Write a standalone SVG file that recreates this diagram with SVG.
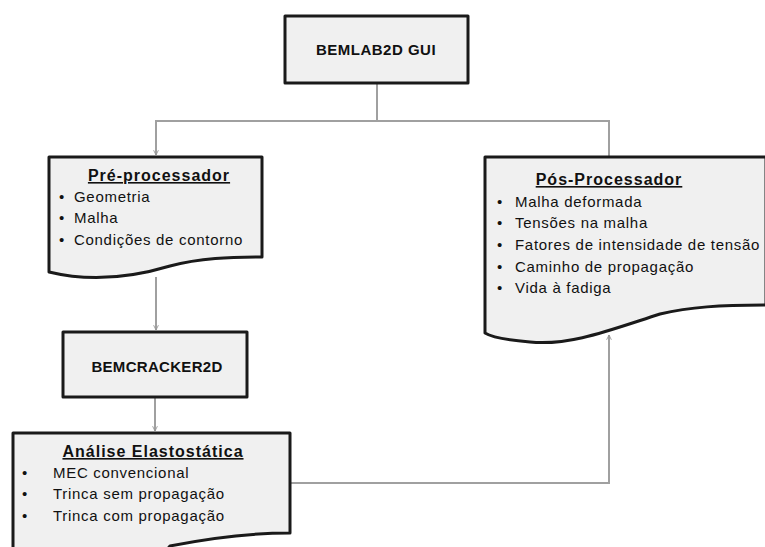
<svg xmlns="http://www.w3.org/2000/svg" width="765" height="547" viewBox="0 0 765 547">
<defs>
<marker id="arr" viewBox="0 0 10 10" refX="9" refY="5" markerWidth="6" markerHeight="6" orient="auto" markerUnits="userSpaceOnUse">
<path d="M1,1 L9,5 L1,9" fill="none" stroke="#999" stroke-width="1.5"/>
</marker>
<style>
.box{fill:#f0f0f0;stroke:#1a1a1a;stroke-width:3;stroke-linejoin:round}
.con{fill:none;stroke:#a0a0a0;stroke-width:2}
text{font-family:"Liberation Sans",Arial,sans-serif;fill:#111}
.t{font-size:15px;font-weight:bold;letter-spacing:0.5px}
.h{font-size:16px;font-weight:bold;text-decoration:underline;letter-spacing:1px}
.i{font-size:15px;letter-spacing:0.7px}
</style>
</defs>
<rect width="765" height="547" fill="#fff"/>
<g id="connectors">
<path class="con" d="M377,83 V121 H156 V155" marker-end="url(#arr)"/>
<path class="con" d="M377,121 H609 V157"/>
<path class="con" d="M156,277 V330" marker-end="url(#arr)"/>
<path class="con" d="M155,397 V431" marker-end="url(#arr)"/>
<path class="con" d="M290,483 H609 V335" marker-end="url(#arr)"/>
</g>
<g id="gui">
<rect class="box" x="285" y="16" width="183" height="67"/>
<text class="t" x="376" y="55" text-anchor="middle">BEMLAB2D GUI</text>
</g>
<g id="pre">
<path class="box" d="M49,157 H262 V257 C230,257 200,258 170,266 C130,278 90,282 49,272 Z"/>
<text class="h" x="159" y="181" text-anchor="middle">Pré-processador</text>
<text class="i" x="59" y="202">•</text><text class="i" x="74" y="202">Geometria</text>
<text class="i" x="59" y="223">•</text><text class="i" x="74" y="223">Malha</text>
<text class="i" x="59" y="245">•</text><text class="i" x="74" y="245">Condições de contorno</text>
</g>
<g id="pos">
<path class="box" d="M485,157 H766 V305 C720,305 690,307 660,314 C610,330 570,346 530,342 C505,340 490,336 485,333 Z"/>
<text class="h" x="609" y="185" text-anchor="middle">Pós-Processador</text>
<text class="i" x="497" y="207">•</text><text class="i" x="515" y="207">Malha deformada</text>
<text class="i" x="497" y="228">•</text><text class="i" x="515" y="228">Tensões na malha</text>
<text class="i" x="497" y="250">•</text><text class="i" x="515" y="250">Fatores de intensidade de tensão</text>
<text class="i" x="497" y="272">•</text><text class="i" x="515" y="272">Caminho de propagação</text>
<text class="i" x="497" y="293">•</text><text class="i" x="515" y="293">Vida à fadiga</text>
</g>
<g id="cracker">
<rect class="box" x="63" y="332" width="184" height="65"/>
<text class="t" x="157" y="372" text-anchor="middle" style="letter-spacing:0.3px">BEMCRACKER2D</text>
</g>
<g id="analise">
<path class="box" d="M13,433 H290 V533 C250,533 210,538 170,546 L165,552 H13 Z"/>
<text class="h" x="153" y="457" text-anchor="middle">Análise Elastostática</text>
<text class="i" x="22" y="478">•</text><text class="i" x="53" y="478">MEC convencional</text>
<text class="i" x="22" y="499">•</text><text class="i" x="53" y="499">Trinca sem propagação</text>
<text class="i" x="22" y="521">•</text><text class="i" x="53" y="521">Trinca com propagação</text>
</g>
</svg>
